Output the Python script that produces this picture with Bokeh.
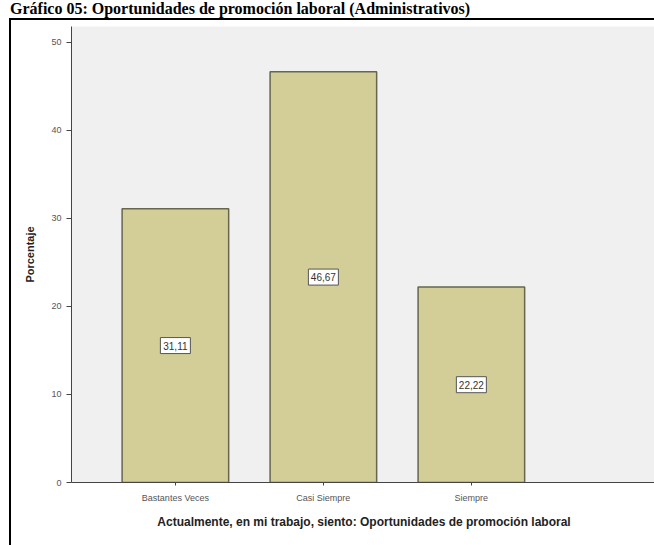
from bokeh.plotting import figure
from bokeh.layouts import column
from bokeh.models import ColumnDataSource, Range1d, FixedTicker, Div
from bokeh.core.properties import value
from bokeh.embed import file_html
from bokeh.resources import INLINE

# ---- data ----
categories = ["Bastantes Veces", "Casi Siempre", "Siempre"]
porcentajes = [31.11, 46.67, 22.22]
etiquetas = ["31,11", "46,67", "22,22"]
y_ticks = [0, 10, 20, 30, 40, 50]
titulo = "Gráfico 05: Oportunidades de promoción laboral (Administrativos)"
x_title = "Actualmente, en mi trabajo, siento: Oportunidades de promoción laboral"
y_title = "Porcentaje"

xs = list(range(1, len(categories) + 1))
mids = [v / 2 for v in porcentajes]
src = ColumnDataSource(dict(x=xs, top=porcentajes, mid=mids, label=etiquetas))

title_div = Div(text=titulo, width=654, height=18, margin=(0, 0, 0, 0),
                styles={"font-family": "Liberation Serif", "font-weight": "bold",
                        "font-size": "16px", "line-height": "18px",
                        "padding-left": "10px", "white-space": "nowrap",
                        "color": "black"})

p = figure(width=645, height=527, output_backend="svg", toolbar_location=None,
           x_range=Range1d(0.298, 4.251), y_range=Range1d(0, 51.8),
           min_border_left=60, min_border_right=0, min_border_top=6,
           min_border_bottom=65, margin=(0, 0, 0, 9),
           styles={"border-top": "2px solid black",
                   "border-left": "2px solid black"})

p.background_fill_color = "#f0f0f0"
p.border_fill_color = "white"
p.outline_line_color = None
p.xgrid.visible = False
p.ygrid.visible = False

p.vbar(x="x", top="top", bottom=0, width=0.72, source=src,
       fill_color="#d3ce97", line_color="#66664f", line_width=1.5)

# value boxes in the middle of each bar
p.rect(x="x", y="mid", width=30, height=16, width_units="screen",
       height_units="screen", source=src, fill_color="white",
       line_color="#555555", line_width=1)
p.text(x="x", y="mid", text="label", source=src, text_align="center",
       text_baseline="middle", text_font=value("Liberation Sans"),
       text_font_size="10px", text_color="#333333")

# axes
p.yaxis.ticker = FixedTicker(ticks=y_ticks)
p.yaxis.minor_tick_line_color = None
p.yaxis.major_tick_in = 0
p.yaxis.major_tick_out = 5
p.yaxis.major_label_standoff = 5
p.yaxis.axis_label = y_title
p.yaxis.axis_label_standoff = 12
p.xaxis.ticker = FixedTicker(ticks=xs)
p.xaxis.major_label_overrides = {x: c for x, c in zip(xs, categories)}
p.xaxis.minor_tick_line_color = None
p.xaxis.major_tick_in = 0
p.xaxis.major_tick_out = 3
p.xaxis.major_label_standoff = 7
p.xaxis.axis_label = x_title
p.xaxis.axis_label_standoff = 9

for ax in (p.xaxis, p.yaxis):
    ax.axis_line_color = "#444444"
    ax.major_tick_line_color = "#444444"
    ax.major_label_text_font = "Liberation Sans"
    ax.major_label_text_font_size = "9px"
    ax.major_label_text_color = "#555555"
    ax.axis_label_text_font = "Liberation Sans"
    ax.axis_label_text_font_style = "bold"
    ax.axis_label_text_color = "#222222"
p.yaxis.axis_label_text_font_size = "11px"
p.xaxis.axis_label_text_font_size = "12px"

layout = column(title_div, p, spacing=0)
open("out.html", "w").write(file_html(layout, INLINE))
